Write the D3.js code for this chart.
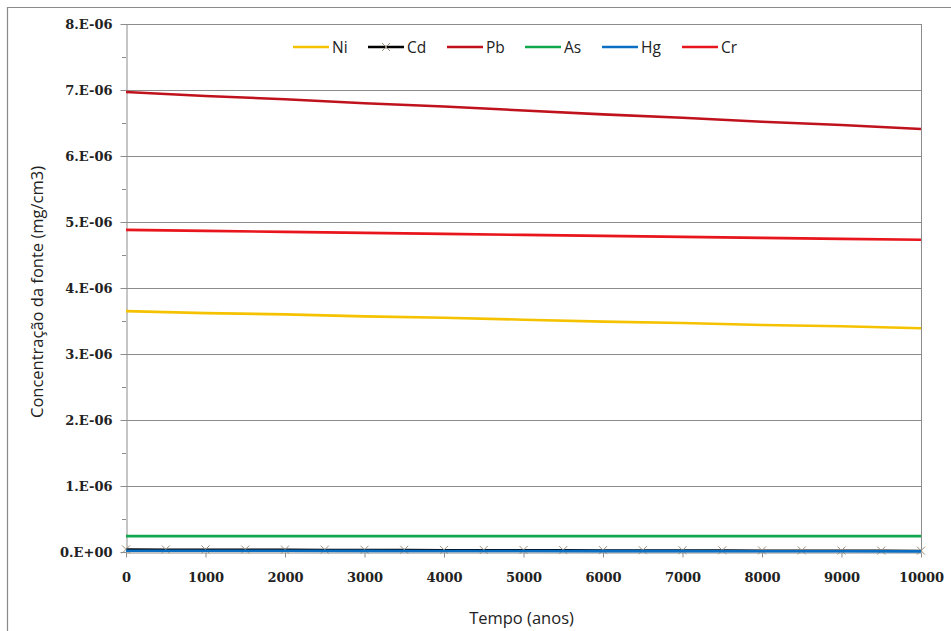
<!DOCTYPE html>
<html>
<head>
<meta charset="utf-8">
<script src="https://cdn.jsdelivr.net/npm/d3@7"></script>
<style>
  body { margin: 0; background: #fff; }
</style>
</head>
<body>
<div id="chart"></div>
<script>
// anos
const years = [0, 1000, 2000, 3000, 4000, 5000, 6000, 7000, 8000, 9000, 10000];
const yearsCd = [0, 500, 1000, 1500, 2000, 2500, 3000, 3500, 4000, 4500, 5000,
  5500, 6000, 6500, 7000, 7500, 8000, 8500, 9000, 9500, 10000];

// mg/cm3
const ni = [3.65e-6, 3.62e-6, 3.60e-6, 3.57e-6, 3.55e-6, 3.52e-6, 3.49e-6, 3.47e-6, 3.44e-6, 3.42e-6, 3.39e-6];
const pb = [6.97e-6, 6.91e-6, 6.86e-6, 6.80e-6, 6.75e-6, 6.69e-6, 6.63e-6, 6.58e-6, 6.52e-6, 6.47e-6, 6.41e-6];
const as = [2.4e-7, 2.4e-7, 2.4e-7, 2.4e-7, 2.4e-7, 2.4e-7, 2.4e-7, 2.4e-7, 2.4e-7, 2.4e-7, 2.4e-7];
const hg = [2.0e-8, 1.9e-8, 1.8e-8, 1.7e-8, 1.6e-8, 1.5e-8, 1.4e-8, 1.3e-8, 1.2e-8, 1.1e-8, 1.0e-8];
const cr = [4.88e-6, 4.865e-6, 4.85e-6, 4.835e-6, 4.82e-6, 4.805e-6, 4.79e-6, 4.775e-6, 4.76e-6, 4.745e-6, 4.73e-6];
const cd = [4.0e-8, 3.9e-8, 3.8e-8, 3.7e-8, 3.6e-8, 3.5e-8, 3.4e-8, 3.3e-8, 3.2e-8, 3.1e-8, 3.0e-8,
  2.9e-8, 2.8e-8, 2.7e-8, 2.6e-8, 2.5e-8, 2.4e-8, 2.3e-8, 2.2e-8, 2.1e-8, 2.0e-8];

const yTicks = [0, 1e-6, 2e-6, 3e-6, 4e-6, 5e-6, 6e-6, 7e-6, 8e-6];
const yTickLabels = ["0.E+00", "1.E-06", "2.E-06", "3.E-06", "4.E-06", "5.E-06", "6.E-06", "7.E-06", "8.E-06"];
const xTicks = [0, 1000, 2000, 3000, 4000, 5000, 6000, 7000, 8000, 9000, 10000];

const series = [
  { name: "Ni", x: years, y: ni, color: "#f5c200" },
  { name: "Cd", x: yearsCd, y: cd, color: "#000000", marker: true },
  { name: "Pb", x: years, y: pb, color: "#c0121c" },
  { name: "As", x: years, y: as, color: "#10a84f" },
  { name: "Hg", x: years, y: hg, color: "#0a6fc2" },
  { name: "Cr", x: years, y: cr, color: "#e8161c" }
];

const width = 951, height = 631;
const margin = { top: 24, right: 30, bottom: 79, left: 126 };
const sans = "'Open Sans', 'Noto Sans', sans-serif";
const serif = "'DejaVu Serif', serif";

const svg = d3.select("#chart").append("svg")
  .attr("width", width)
  .attr("height", height);

// chart area border
svg.append("path")
  .attr("d", `M7.5,${height} V7.5 H${width}`)
  .attr("fill", "none")
  .attr("stroke", "#8a8a8a")
  .attr("stroke-width", 1.2);

const x = d3.scaleLinear().domain([0, 10000]).range([margin.left, width - margin.right]);
const y = d3.scaleLinear().domain([0, 8e-6]).range([height - margin.bottom, margin.top]);

// gridlines
svg.append("g")
  .selectAll("line")
  .data(yTicks.slice(1))
  .join("line")
  .attr("x1", x(0)).attr("x2", x(10000))
  .attr("y1", d => Math.round(y(d)) + 0.5).attr("y2", d => Math.round(y(d)) + 0.5)
  .attr("stroke", "#8c8c8c");

// right border of plot
svg.append("line")
  .attr("x1", Math.round(x(10000)) + 0.5).attr("x2", Math.round(x(10000)) + 0.5)
  .attr("y1", y(8e-6)).attr("y2", y(0))
  .attr("stroke", "#8c8c8c");

// y axis
const yAxis = svg.append("g")
  .attr("transform", `translate(${Math.round(x(0)) + 0.5},0)`)
  .call(d3.axisLeft(y).tickValues(yTicks).tickSize(6).tickSizeOuter(0)
    .tickFormat((d, i) => yTickLabels[i]));
yAxis.select(".domain").attr("stroke", "#8c8c8c");
yAxis.selectAll(".tick line").attr("stroke", "#8c8c8c");
yAxis.selectAll(".tick text")
  .attr("x", -14)
  .attr("font-family", serif)
  .attr("font-weight", "bold")
  .attr("font-size", 13)
  .attr("fill", "#222");
// minor y ticks
svg.append("g")
  .selectAll("line")
  .data(d3.range(0, 8).map(i => yTicks[i] + 5e-7))
  .join("line")
  .attr("x1", x(0) - 4).attr("x2", x(0))
  .attr("y1", d => Math.round(y(d)) + 0.5).attr("y2", d => Math.round(y(d)) + 0.5)
  .attr("stroke", "#8c8c8c");

// x axis
const xAxis = svg.append("g")
  .attr("transform", `translate(0,${Math.round(y(0)) + 0.5})`)
  .call(d3.axisBottom(x).tickValues(xTicks).tickSize(5).tickSizeOuter(0).tickFormat(d3.format("d")));
xAxis.select(".domain").attr("stroke", "#8c8c8c");
xAxis.selectAll(".tick line").attr("stroke", "#8c8c8c");
xAxis.selectAll(".tick text")
  .attr("y", 20)
  .attr("font-family", serif)
  .attr("font-weight", "bold")
  .attr("font-size", 13)
  .attr("fill", "#222");

// lines
const line = d3.line();
series.forEach(s => {
  const pts = s.x.map((v, i) => [x(v), y(s.y[i])]);
  svg.append("path")
    .attr("d", line(pts))
    .attr("fill", "none")
    .attr("stroke", s.color)
    .attr("stroke-width", s.marker ? 2 : 2.6);
  if (s.marker) {
    svg.append("g")
      .selectAll("path")
      .data(pts)
      .join("path")
      .attr("d", d => `M${d[0] - 4},${d[1] - 4}L${d[0] + 4},${d[1] + 4}M${d[0] - 4},${d[1] + 4}L${d[0] + 4},${d[1] - 4}`)
      .attr("stroke", "#9a8f7a")
      .attr("stroke-width", 1);
  }
});

// legend
const legendX = [293, 368, 447, 525, 602, 682];
const legend = svg.append("g").attr("transform", "translate(0,47)");
series.forEach((s, i) => {
  const g = legend.append("g").attr("transform", `translate(${legendX[i]},0)`);
  g.append("line").attr("x1", 0).attr("x2", 36).attr("stroke", s.color).attr("stroke-width", 2.6);
  if (s.marker) {
    g.append("path").attr("d", "M14,-4L22,4M14,4L22,-4").attr("stroke", "#9a8f7a").attr("stroke-width", 1);
  }
  g.append("text")
    .attr("x", 39).attr("y", 5.5)
    .attr("font-family", sans)
    .attr("font-size", 15.5)
    .attr("fill", "#222")
    .text(s.name);
});

// axis titles
svg.append("text")
  .attr("transform", `translate(43,${(y(0) + y(8e-6)) / 2 + 4}) rotate(-90)`)
  .attr("text-anchor", "middle")
  .attr("font-family", sans)
  .attr("font-size", 16.5)
  .attr("fill", "#222")
  .text("Concentração da fonte (mg/cm3)");

svg.append("text")
  .attr("x", (x(0) + x(10000)) / 2 - 2)
  .attr("y", 624)
  .attr("text-anchor", "middle")
  .attr("font-family", sans)
  .attr("font-size", 16.5)
  .attr("fill", "#222")
  .text("Tempo (anos)");
</script>
</body>
</html>
